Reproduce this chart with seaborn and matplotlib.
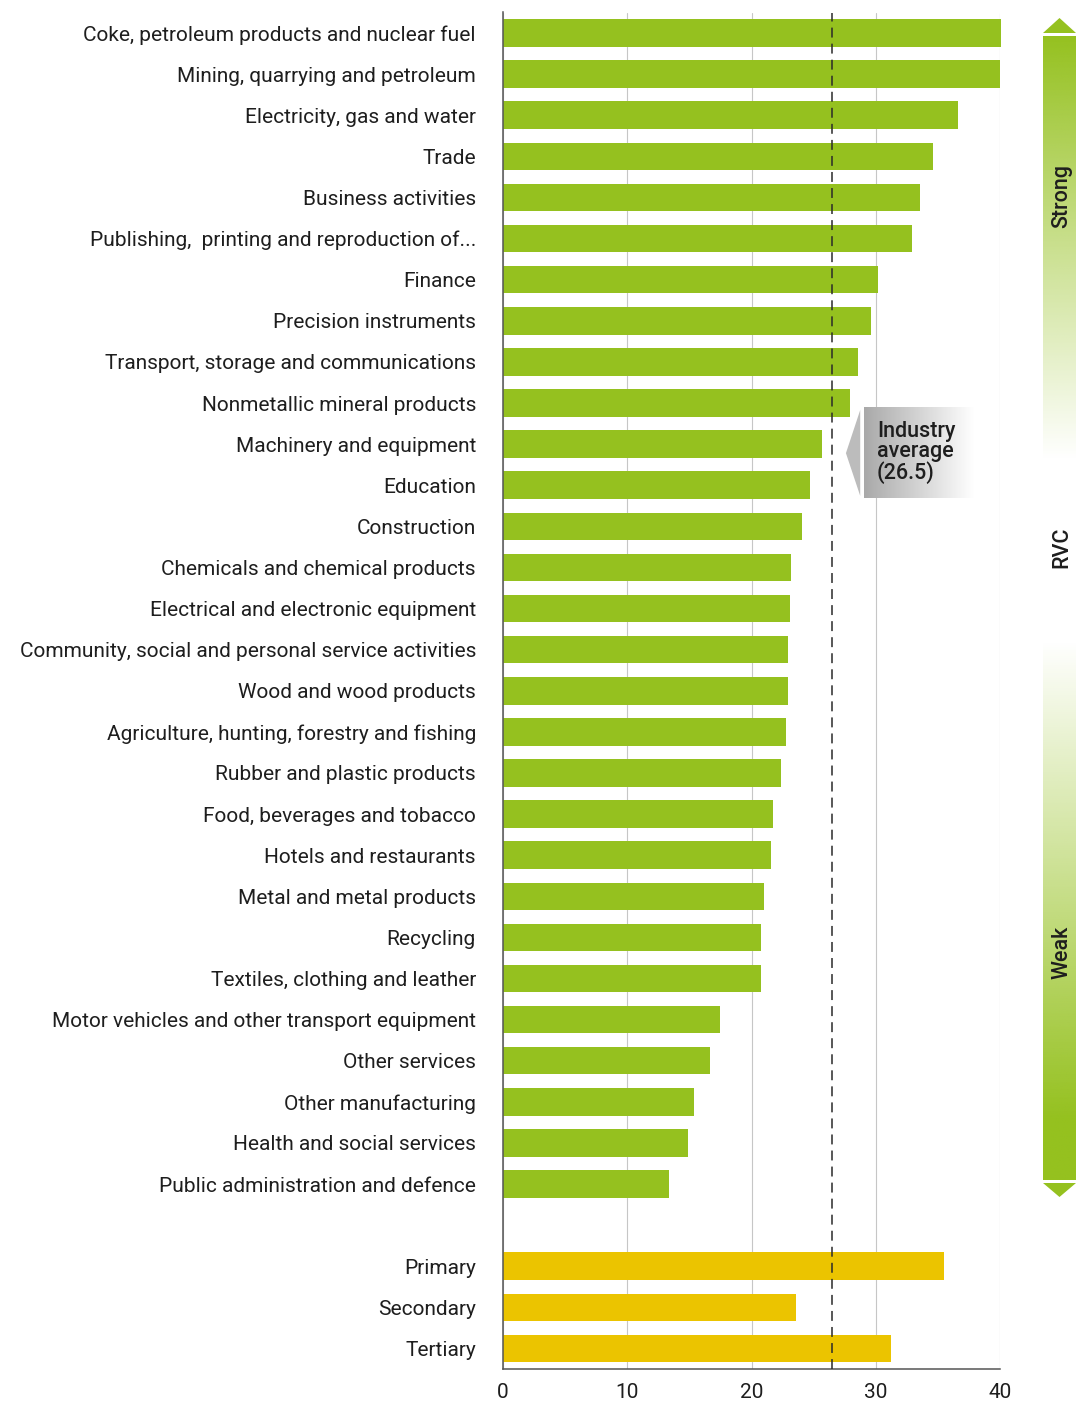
import numpy as np
import pandas as pd
import matplotlib
matplotlib.use("Agg")
import matplotlib.pyplot as plt
import seaborn as sns
from matplotlib.patches import Polygon
from matplotlib.colors import to_rgb

# Revealed value chain (RVC) scores by industry
industries = [
    "Coke, petroleum products and nuclear fuel",
    "Mining, quarrying and petroleum",
    "Electricity, gas and water",
    "Trade",
    "Business activities",
    "Publishing,  printing and reproduction of...",
    "Finance",
    "Precision instruments",
    "Transport, storage and communications",
    "Nonmetallic mineral products",
    "Machinery and equipment",
    "Education",
    "Construction",
    "Chemicals and chemical products",
    "Electrical and electronic equipment",
    "Community, social and personal service activities",
    "Wood and wood products",
    "Agriculture, hunting, forestry and fishing",
    "Rubber and plastic products",
    "Food, beverages and tobacco",
    "Hotels and restaurants",
    "Metal and metal products",
    "Recycling",
    "Textiles, clothing and leather",
    "Motor vehicles and other transport equipment",
    "Other services",
    "Other manufacturing",
    "Health and social services",
    "Public administration and defence",
]
industry_rvc = [40.1, 40.0, 36.6, 34.6, 33.6, 32.9, 30.2, 29.6, 28.6, 27.9,
                25.7, 24.7, 24.1, 23.2, 23.1, 22.9, 22.9, 22.8, 22.4, 21.7,
                21.6, 21.0, 20.8, 20.8, 17.5, 16.7, 15.4, 14.9, 13.4]

sectors = ["Primary", "Secondary", "Tertiary"]
sector_rvc = [35.5, 23.6, 31.2]

industry_average = 26.5
x_ticks = [0, 10, 20, 30, 40]

GREEN = "#95c11f"
YELLOW = "#ebc400"
TEXT = "#1e1e1e"
AXIS = "#555555"

sns.set_style("white")
plt.rcParams["font.family"] = ["Roboto", "DejaVu Sans"]
plt.rcParams["text.color"] = TEXT
plt.rcParams["xtick.color"] = TEXT
plt.rcParams["ytick.color"] = TEXT

spacer = " "
order = industries + [spacer] + sectors
df = pd.DataFrame({
    "activity": industries + sectors,
    "rvc": industry_rvc + sector_rvc,
    "group": ["Industry"] * len(industries) + ["Sector"] * len(sectors),
})

fig = plt.figure(figsize=(10.76, 14.05), dpi=100)
ax = fig.add_axes([503 / 1076, 1 - 1369 / 1405, 497 / 1076, (1369 - 12.5) / 1405])

sns.barplot(data=df, y="activity", x="rvc", hue="group", order=order,
            palette={"Industry": GREEN, "Sector": YELLOW}, dodge=False,
            width=0.67, saturation=1, legend=False, ax=ax)
for p in ax.patches:
    p.set_clip_on(False)
    p.set_linewidth(0)

n = len(order)
ax.set_xlim(0, 40)
ax.set_ylim(n - 0.5, -0.5)
ax.set_xlabel("")
ax.set_ylabel("")
ax.set_xticks(x_ticks)
ax.set_yticks(np.arange(-0.5, n), minor=True)

ax.tick_params(axis="x", length=4.3, width=1, color=AXIS, labelsize=15, pad=6)
ax.tick_params(axis="y", which="major", length=0, labelsize=15, pad=19.5)
ax.tick_params(axis="y", which="minor", length=4.3, width=1, color=AXIS)

ax.xaxis.grid(True, color="#c6c6c6", lw=0.8)
ax.set_axisbelow(True)
for side in ("top", "right"):
    ax.spines[side].set_visible(False)
for side in ("left", "bottom"):
    ax.spines[side].set_color(AXIS)
    ax.spines[side].set_linewidth(1.1)

# industry average reference line
ax.axvline(industry_average, color="#2a2a2a", lw=1.1, ls=(0, (6.5, 4)), zorder=5)

# callout pointing at the average line
tip_x = industry_average + 1.1
box_x0 = industry_average + 2.55
box_x1 = industry_average + 11.4
y_top, y_bot, tip_y = 9.12, 11.31, 10.22
grey = np.array(to_rgb("#a9a9a9"))
ramp = np.linspace(0, 1, 256)[None, :, None]
box_img = grey * (1 - ramp) + np.ones(3) * ramp
ax.imshow(box_img, extent=(box_x0, box_x1, y_bot, y_top), aspect="auto",
          zorder=3, interpolation="bilinear")
ax.add_patch(Polygon([(tip_x, tip_y), (box_x0 - 0.3, y_top + 0.05),
                      (box_x0 - 0.3, y_bot - 0.05)],
                     closed=True, facecolor="#bcbcbc", edgecolor="none", zorder=3))
ax.text(box_x0 + 1.05, tip_y - 0.02,
        f"Industry\naverage\n({industry_average})",
        ha="left", va="center", fontsize=15.5, fontweight="medium",
        linespacing=0.95, color=TEXT, zorder=4)
ax.set_xlim(0, 40)
ax.set_ylim(n - 0.5, -0.5)

# RVC strength scale on the right
sx = fig.add_axes([1043 / 1076, 1 - 1197 / 1405, 33 / 1076, (1197 - 18) / 1405])
sx.set_xlim(0, 33)
sx.set_ylim(1197, 18)
sx.axis("off")
g = np.array(to_rgb(GREEN))

fade = np.linspace(1, 0, 256)
up = np.ones((256, 1, 4))
up[:, 0, :3] = g
up[:, 0, 3] = fade
sx.imshow(up, extent=(0, 33, 460, 36), aspect="auto", interpolation="bilinear")

rise = np.clip(np.linspace(0, 1.13, 256), 0, 1)
down = np.ones((256, 1, 4))
down[:, 0, :3] = g
down[:, 0, 3] = rise
sx.imshow(down, extent=(0, 33, 1180, 640), aspect="auto", interpolation="bilinear")

sx.add_patch(Polygon([(0, 33), (16.5, 18), (33, 33)], closed=True,
                     facecolor=GREEN, edgecolor="none"))
sx.add_patch(Polygon([(0, 1183), (16.5, 1197), (33, 1183)], closed=True,
                     facecolor=GREEN, edgecolor="none"))
sx.set_xlim(0, 33)
sx.set_ylim(1197, 18)

for label, ypos in (("Strong", 196), ("RVC", 547), ("Weak", 952)):
    sx.text(19, ypos, label, rotation=90, ha="center", va="center",
            fontsize=15.5, fontweight="medium", color=TEXT)

fig.savefig("out.png", dpi=100)
